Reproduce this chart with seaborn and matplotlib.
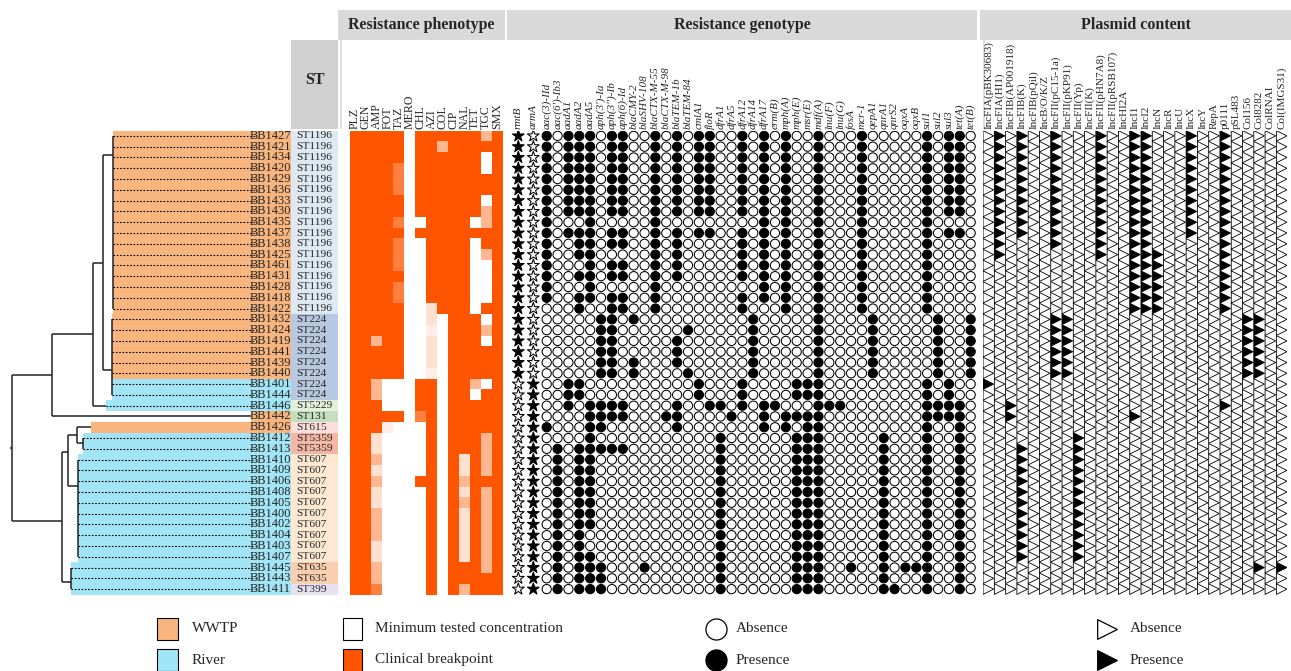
import numpy as np
import pandas as pd
import matplotlib
matplotlib.use("Agg")
import matplotlib.pyplot as plt
import seaborn as sns
from matplotlib.colors import LinearSegmentedColormap
from matplotlib.patches import Rectangle

sns.set_style("white")
plt.rcParams['font.family'] = ['Liberation Serif', 'DejaVu Serif']

# ---------------- data ----------------
isolates = ["BB1427", "BB1421", "BB1434", "BB1420", "BB1429", "BB1436", "BB1433", "BB1430",
            "BB1435", "BB1437", "BB1438", "BB1425", "BB1461", "BB1431", "BB1428", "BB1418",
            "BB1422", "BB1432", "BB1424", "BB1419", "BB1441", "BB1439", "BB1440", "BB1401",
            "BB1444", "BB1446", "BB1442", "BB1426", "BB1412", "BB1413", "BB1410", "BB1409",
            "BB1406", "BB1408", "BB1405", "BB1400", "BB1402", "BB1404", "BB1403", "BB1407",
            "BB1445", "BB1443", "BB1411"]
st_types = ["ST1196"] * 17 + ["ST224"] * 8 + ["ST5229", "ST131", "ST615", "ST5359", "ST5359"] \
    + ["ST607"] * 10 + ["ST635", "ST635", "ST399"]
source = ["WWTP"] * 23 + ["River"] * 3 + ["WWTP", "WWTP"] + ["River"] * 15

# tree: tip depth of every leaf and internal nodes (depth, attach row, children)
leaf_tip = [112.7] * 17 + [112.0] * 8 + [106.0, 251.0, 91.0, 83.0, 83.0] + [77.7] * 10 + [71.0] * 3
leaf_dotted = [True] * 26 + [False, False] + [True] * 15
tree_nodes = {
    "st1196": (112.7, 1.76, list(range(0, 17))),
    "st224": (112.0, 21.7, list(range(17, 25))),
    "B": (103.3, 11.74, ["st1196", "st224"]),
    "C": (92.7, 18.38, ["B", 25]),
    "D": (51.7, 22.2, ["C", 26]),
    "H": (83.0, 28.5, [28, 29]),
    "G": (76.7, 27.75, [27, "H"]),
    "st607": (77.7, 32.4, list(range(30, 40))),
    "F": (68.3, 29.26, ["G", "st607"]),
    "st635": (71.0, 41.3, [40, 41, 42]),
    "E": (62.3, 35.68, ["F", "st635"]),
    "root": (12.3, 28.9, ["D", "E"]),
}

st_colors = {"ST1196": "#dde8f0", "ST224": "#b7c8e0", "ST5229": "#e3f0da", "ST131": "#c4dfbf",
             "ST615": "#fde0dc", "ST5359": "#f4b7a5", "ST607": "#fde9d2", "ST635": "#f9cfb0",
             "ST399": "#e6e0ef"}
source_colors = {"WWTP": "#f8b57e", "River": "#a2e5f7"}

pheno_cols = ["PLZ", "GEN", "AMP", "FOT", "TAZ", "MERO", "CHL", "AZI", "COL", "CIP", "NAL", "TET", "TGC", "SMX"]
# 0 = minimum tested concentration ... 1 = clinical breakpoint
pheno = [
    [1, 1, 1, 1, 1, 0, 1, 1, 1, 1, 1, 1, .43, 1],
    [1, 1, 1, 1, 1, 0, 1, 1, .43, 1, 1, 1, 1, 1],
    [1, 1, 1, 1, 1, 0, 1, 1, 1, 1, 1, 1, 0, 1],
    [1, 1, 1, 1, .75, 0, 1, 1, 1, 1, 1, 1, 0, 1],
    [1, 1, 1, 1, .75, 0, 1, 1, 1, 1, 1, 1, 1, 1],
    [1, 1, 1, 1, .75, 0, 1, 1, 1, 1, 1, 1, 1, 1],
    [1, 1, 1, 1, 1, 0, 1, 1, 1, 1, 1, 1, 0, 1],
    [1, 1, 1, 1, 1, 0, 1, 1, 1, 1, 1, 1, .43, 1],
    [1, 1, 1, 1, .75, 0, 0, 1, 1, 1, 1, 0, .43, 1],
    [1, 1, 1, 1, 1, 0, 1, 1, 1, 1, 1, 1, 1, 1],
    [1, 1, 1, 1, .75, 0, 0, 1, 1, 1, 1, 0, 1, 1],
    [1, 1, 1, 1, .75, 0, 0, 1, 1, 1, 1, 0, .43, 1],
    [1, 1, 1, 1, .75, 0, 0, 1, 1, 1, 1, 0, 0, 1],
    [1, 1, 1, 1, 1, 0, 0, 1, 1, 1, 1, 0, 0, 1],
    [1, 1, 1, 1, .75, 0, 0, 1, 1, 1, 1, 0, 0, 1],
    [1, 1, 1, 1, .75, 0, 0, 1, 1, 1, 1, 0, 0, 1],
    [1, 1, 1, 1, 1, 0, 0, .18, 1, 1, 1, 0, 1, 1],
    [1, 1, 1, 1, 1, 0, 0, .18, 0, 1, 1, 1, 0, 1],
    [1, 1, 1, 1, 1, 0, 0, .1, 0, 1, 1, 1, .43, 1],
    [1, 1, .43, 1, 1, 0, 0, .18, 0, 1, 1, 1, 0, 1],
    [1, 1, 1, 1, 1, 0, 0, .18, 0, 1, 1, 1, 1, 1],
    [1, 1, 1, 1, 1, 0, 0, .18, 0, 1, 1, 1, 1, 1],
    [1, 1, 1, 1, 1, 0, 0, .1, 0, 1, 1, 1, 1, 1],
    [1, 1, .43, 0, 0, 0, 1, 1, 0, 1, 1, .43, 0, 1],
    [1, 1, .43, 0, 0, 0, 1, 1, 0, 1, 1, 0, 1, 1],
    [1, 1, 1, 0, 0, 0, 1, 1, 0, 1, 1, 1, 1, 1],
    [1, 1, 1, 1, 1, 0, .75, 1, 0, 1, 1, 1, 1, 1],
    [1, 1, 1, .1, 0, 0, 0, 1, 0, 1, 1, 1, 1, 1],
    [1, 1, .18, 0, 0, 0, 0, 1, 0, 1, 1, 1, .43, 1],
    [1, 1, .18, 0, 0, 0, 0, 1, 0, 1, 1, 1, .43, 1],
    [1, 1, .43, 0, 0, 0, 0, 1, 0, 1, .18, 1, .43, 1],
    [1, 1, .18, 0, 0, 0, 0, 1, 0, 1, .18, 1, .43, 1],
    [1, 1, .43, 0, 0, 0, 1, 1, 0, 1, .43, 1, 1, 1],
    [1, 1, .18, 0, 0, 0, 0, 1, 0, 1, .18, 1, .43, 1],
    [1, 1, .18, 0, 0, 0, 0, 1, 0, 1, .43, 1, .43, 1],
    [1, 1, .43, 0, 0, 0, 0, 1, 0, 1, .18, 1, .43, 1],
    [1, 1, .43, 0, 0, 0, 0, 1, 0, 1, .18, 1, .43, 1],
    [1, 1, .43, 0, 0, 0, 0, 1, 0, 1, .18, 1, .43, 1],
    [1, 1, .18, 0, 0, 0, 0, 1, 0, 1, .18, 1, .43, 1],
    [1, 1, .18, 0, 0, 0, 0, 1, 0, 1, .18, 1, .43, 1],
    [1, 1, .43, 0, 0, 0, 0, 1, 0, 1, 1, 1, .43, 1],
    [1, 1, .43, 0, 0, 0, 0, 1, 0, 1, 1, 1, 1, 1],
    [1, 1, .75, 0, 0, 0, 0, 1, 0, 1, .43, 1, 1, 1],
]

# resistance genes: rows (isolate index) where the gene is present
r = lambda a, b: list(range(a, b + 1))
genes = {
    "rmtB": r(0, 22),
    "armA": r(23, 42),
    "aac(3)-IId": r(0, 15) + [27],
    "aac(6')-Ib3": r(29, 42),
    "aadA1": r(0, 7) + [9, 23, 24, 25],
    "aadA2": r(0, 7) + [9, 10, 11, 13, 15, 16, 23, 24] + r(29, 42),
    "aadA5": r(0, 15) + r(25, 36) + r(39, 42),
    "aph(3')-Ia": r(17, 22) + [25, 26, 27, 29, 40, 41, 42],
    "aph(3'')-Ib": r(0, 7) + [9, 10, 12, 13, 15, 16] + r(17, 22) + [25, 26, 29],
    "aph(6)-Id": r(0, 7) + [9, 10, 12, 13, 15, 16, 25, 26, 29],
    "blaCMY-2": [17, 21, 22],
    "blaSHV-108": [40],
    "blaCTX-M-55": r(0, 16),
    "blaCTX-M-98": [26],
    "blaTEM-1b": r(0, 7) + r(9, 13) + [19, 20, 21, 25, 26, 27],
    "blaTEM-84": [18, 22],
    "cmlA1": r(0, 7) + [9, 23, 24],
    "floR": r(0, 7) + [9, 25],
    "dfrA1": [25] + r(28, 42),
    "dfrA5": [26],
    "dfrA12": r(0, 7) + r(9, 13) + [15, 16, 23, 24, 25],
    "dfrA14": r(17, 22),
    "dfrA17": r(0, 15) + [25, 26, 27],
    "erm(B)": [25],
    "mph(A)": r(0, 16) + [26, 27],
    "mph(E)": [23, 24, 26] + r(28, 42),
    "msr(E)": [23, 24, 26, 27] + r(28, 42),
    "mdf(A)": r(0, 42),
    "lnu(F)": [25],
    "lnu(G)": [25],
    "fosA": [40],
    "mcr-1": r(0, 16),
    "qepA1": r(17, 22),
    "qnrA1": r(28, 42),
    "qnrS2": [42],
    "oqxA": [40],
    "oqxB": [40],
    "sul1": r(0, 16) + r(23, 42),
    "sul2": r(17, 22) + [25, 26],
    "sul3": r(0, 7) + [9, 23, 24, 25, 26],
    "tet(A)": r(0, 7) + [9, 25, 26, 27] + r(28, 42),
    "tet(B)": r(17, 22),
}

plasmids = {
    "IncFIA(pBK30683)": [23],
    "IncFIA(HI1)": r(0, 11),
    "IncFIB(AP001918)": [25, 26],
    "IncFIB(K)": r(0, 9) + r(29, 39),
    "IncFIB(pQil)": [],
    "IncB/O/K/Z": [],
    "IncFII(pC15-1a)": r(0, 10) + r(17, 22),
    "IncFII(pKP91)": r(17, 22),
    "IncFII(Yp)": r(28, 39),
    "IncFII(K)": [],
    "IncFII(pHN7A8)": r(0, 11),
    "IncFII(pRSB107)": [],
    "IncHI2A": [],
    "IncI1": r(0, 16) + [26],
    "IncI2": r(0, 16),
    "IncN": r(11, 16),
    "IncR": [],
    "IncU": [],
    "IncX": r(0, 9),
    "IncY": [],
    "RepA": [],
    "p0111": r(0, 16) + [25],
    "pSL483": [],
    "Col156": r(17, 22),
    "Col8282": r(17, 22) + [40],
    "ColRNAI": [],
    "Col(IMGS31)": [40],
}

# ---------------- layout helpers ----------------
W, H = 1291, 671
ROW_TOP, ROW_BOT = 130.5, 594.5
n = len(isolates)
rows = np.arange(n)

fig = plt.figure(figsize=(W / 100, H / 100), dpi=100)


def add_ax(x0, x1, y0=ROW_TOP, y1=ROW_BOT):
    return fig.add_axes([x0 / W, 1 - y1 / H, (x1 - x0) / W, (y1 - y0) / H])


# overlay for headers and legend (pixel coordinates)
ov = fig.add_axes([0, 0, 1, 1])
ov.set_xlim(0, W)
ov.set_ylim(H, 0)
ov.axis('off')

for x0, x1, title in [(338, 505, "Resistance phenotype"), (507, 977, "Resistance genotype"),
                      (980, 1291, "Plasmid content")]:
    ov.add_patch(Rectangle((x0, 10), x1 - x0, 30, color="#d9d9d9", lw=0))
    ov.text((x0 + x1) / 2, 25, title, ha='center', va='center', fontsize=11.5, fontweight='bold')
ov.add_patch(Rectangle((291, 40), 47, 89, color="#d0d0d0", lw=0))
ov.text(314.5, 80, "ST", ha='center', va='center', fontsize=11.5, fontweight='bold')
ov.vlines([341, 984], 40, 129, color="#d9d9d9", lw=1.2)

# ---------------- tree + source background ----------------
ax_t = add_ax(0, 291)
ax_t.set_xlim(0, 291)
ax_t.set_ylim(n - 0.5, -0.5)
ax_t.axis('off')
tips = np.array(leaf_tip)
ax_t.barh(rows, 291 - tips, left=tips, height=1.0,
          color=[source_colors[s] for s in source], lw=0)


def node_pos(c):
    if isinstance(c, str):
        return tree_nodes[c][0], tree_nodes[c][1]
    return leaf_tip[c], c


for name, (depth, attach, children) in tree_nodes.items():
    ys = [node_pos(c)[1] for c in children]
    ax_t.vlines(depth, min(ys), max(ys), color="#222222", lw=1.1)
    for c in children:
        cx, cy = node_pos(c)
        if cx > depth:
            ax_t.hlines(cy, depth, cx, color="#222222", lw=1.1)
root = tree_nodes["root"]
ax_t.hlines(root[1], root[0] - 2, root[0], color="#222222", lw=1.1)

for i, name in enumerate(isolates):
    if leaf_dotted[i]:
        ax_t.hlines(i, leaf_tip[i], 255, color="black", lw=0.8, linestyles=(0, (1.5, 1.5)))
    ax_t.text(291, i, name, ha='right', va='center', fontsize=9)

# ---------------- ST column ----------------
ax_s = add_ax(291, 338)
ax_s.set_xlim(0, 1)
ax_s.set_ylim(n - 0.5, -0.5)
ax_s.axis('off')
ax_s.barh(rows, 1, left=0, height=1.0, color=[st_colors[s] for s in st_types], lw=0)
for i, s in enumerate(st_types):
    ax_s.text(0.12, i, s, ha='left', va='center', fontsize=8.2)

# ---------------- phenotype heatmap ----------------
ax_p = add_ax(349.5, 502.5)
cmap = LinearSegmentedColormap.from_list("res", ["#ffffff", "#ff5500"])
sns.heatmap(pd.DataFrame(pheno, columns=pheno_cols), cmap=cmap, vmin=0, vmax=1, cbar=False,
            ax=ax_p, xticklabels=pheno_cols, yticklabels=False)
ax_p.xaxis.tick_top()
ax_p.set_xticklabels(pheno_cols, rotation=90, fontsize=8.6)
ax_p.tick_params(length=0, pad=1)

# ---------------- genotype markers ----------------
gene_names = list(genes.keys())
gene_x = np.r_[[-2.61, -1.23], np.arange(len(gene_names) - 2)]
ax_g = add_ax(511.9, 976.1)
ax_g.set_xlim(-3.2, 39.5)
ax_g.set_ylim(n - 0.5, -0.5)
for j, g in enumerate(gene_names):
    present = np.isin(rows, genes[g])
    marker, size = ('*', 80) if j < 2 else ('o', 44)
    ax_g.scatter(np.full(n, gene_x[j]), rows, s=size, marker=marker,
                 facecolor=np.where(present, 'black', 'white'), edgecolor='black', linewidth=0.75)
ax_g.set_xticks(gene_x)
ax_g.set_xticklabels(gene_names, rotation=90, fontsize=8, fontstyle='italic')
ax_g.xaxis.tick_top()
ax_g.tick_params(length=0, pad=1)
ax_g.set_yticks([])
for sp in ax_g.spines.values():
    sp.set_visible(False)

# ---------------- plasmid markers ----------------
plas_names = list(plasmids.keys())
ax_q = add_ax(982.7, 1287.3)
ax_q.set_xlim(-0.5, len(plas_names) - 0.5)
ax_q.set_ylim(n - 0.5, -0.5)
for j, p in enumerate(plas_names):
    present = np.isin(rows, plasmids[p])
    ax_q.scatter(np.full(n, j), rows, s=58, marker='>',
                 facecolor=np.where(present, 'black', 'white'), edgecolor='black', linewidth=0.6)
ax_q.set_xticks(range(len(plas_names)))
ax_q.set_xticklabels(plas_names, rotation=90, fontsize=8)
ax_q.xaxis.tick_top()
ax_q.tick_params(length=0, pad=1)
ax_q.set_yticks([])
for sp in ax_q.spines.values():
    sp.set_visible(False)

# ---------------- legend ----------------
lg_y = [629, 660]
for y, lab in zip(lg_y, ["WWTP", "River"]):
    ov.add_patch(Rectangle((157, y - 11), 21, 22, facecolor=source_colors[lab], edgecolor='black', lw=0.8))
    ov.text(192, y, lab, va='center', fontsize=11)
for y, col, lab in zip(lg_y, ["#ffffff", "#ff5500"], ["Minimum tested concentration", "Clinical breakpoint"]):
    ov.add_patch(Rectangle((343, y - 11), 19, 22, facecolor=col, edgecolor='black', lw=0.8))
    ov.text(375, y, lab, va='center', fontsize=11)
for y, fc, lab in zip(lg_y, ['white', 'black'], ["Absence", "Presence"]):
    ov.scatter(716, y, s=230, marker='o', facecolor=fc, edgecolor='black', lw=0.9)
    ov.text(736, y, lab, va='center', fontsize=11)
    ov.scatter(1107, y, s=200, marker='>', facecolor=fc, edgecolor='black', lw=0.9)
    ov.text(1130, y, lab, va='center', fontsize=11)

fig.savefig("out.png", dpi=100)
